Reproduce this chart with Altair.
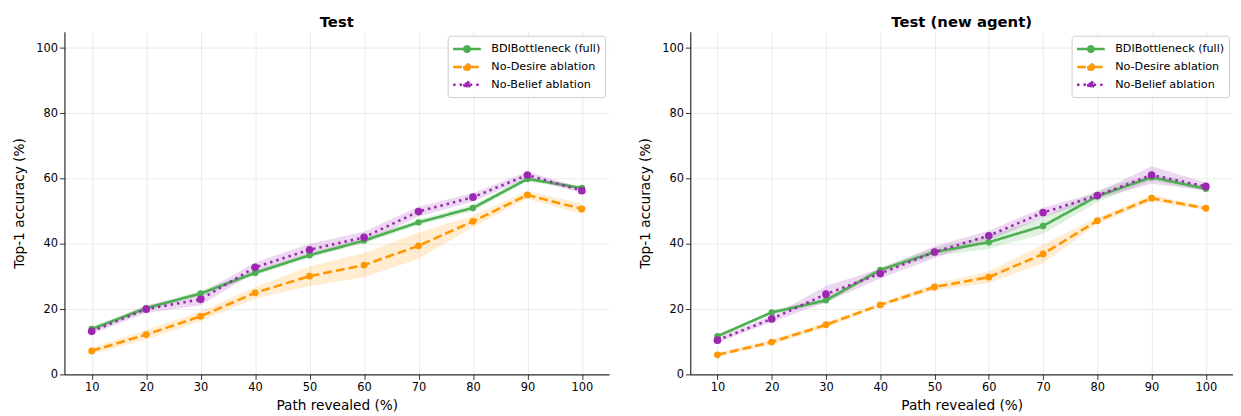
import altair as alt
import pandas as pd

x_vals = [10, 20, 30, 40, 50, 60, 70, 80, 90, 100]
y_ticks = [0, 20, 40, 60, 80, 100]
series_names = ["BDIBottleneck (full)", "No-Desire ablation", "No-Belief ablation"]
series_colors = ["#4caf50", "#ff9800", "#9c27b0"]
series_dash = [[1, 0], [9, 4], [2.5, 4]]
series_size = [42, 48, 60]

# Panel 1: Test
test_full = [13.9, 20.3, 24.8, 31.1, 36.5, 41.0, 46.6, 51.0, 59.9, 57.1]
test_full_err = [0.8, 0.7, 0.8, 0.8, 0.8, 0.8, 0.9, 1.0, 0.7, 0.6]
test_nodesire = [7.2, 12.2, 17.8, 25.0, 30.1, 33.5, 39.4, 46.9, 55.0, 50.7]
test_nodesire_err = [1.0, 1.5, 1.5, 1.8, 3.0, 3.7, 4.0, 1.7, 1.2, 1.6]
test_nobelief = [13.2, 20.0, 23.0, 32.8, 38.2, 42.0, 49.9, 54.3, 61.1, 56.3]
test_nobelief_err = [0.8, 1.2, 1.8, 1.5, 1.8, 1.7, 1.5, 1.3, 1.0, 0.8]

# Panel 2: Test (new agent)
new_full = [11.7, 19.0, 22.7, 32.0, 37.5, 40.5, 45.5, 54.6, 60.4, 56.9]
new_full_err = [0.5, 0.6, 0.8, 0.8, 1.2, 2.0, 2.5, 1.8, 1.0, 0.8]
new_nodesire = [6.0, 9.9, 15.2, 21.3, 26.8, 29.8, 36.9, 47.1, 54.0, 50.9]
new_nodesire_err = [0.6, 0.8, 0.8, 0.6, 1.0, 1.8, 2.8, 1.0, 1.0, 0.6]
new_nobelief = [10.5, 17.0, 24.6, 30.9, 37.5, 42.5, 49.6, 54.8, 61.1, 57.6]
new_nobelief_err = [0.8, 1.0, 2.5, 1.5, 1.8, 1.5, 1.5, 1.0, 2.7, 1.2]


def make_df(means, errs):
    rows = []
    for name, m, e in zip(series_names, means, errs):
        for xv, mv, ev in zip(x_vals, m, e):
            rows.append({"x": xv, "series": name, "mean": mv, "lo": mv - ev, "hi": mv + ev})
    return pd.DataFrame(rows)


df_test = make_df([test_full, test_nodesire, test_nobelief],
                  [test_full_err, test_nodesire_err, test_nobelief_err])
df_new = make_df([new_full, new_nodesire, new_nobelief],
                 [new_full_err, new_nodesire_err, new_nobelief_err])

# legend handle: line with a dot in the middle (path spans beyond the unit box)
legend_path = ("M-1,0L0.4,0M1.1,0L2.5,0M1.1,0A0.35,0.35,0,1,1,0.4,0"
               "A0.35,0.35,0,1,1,1.1,0Z")


def panel(df, title, width):
    cs = alt.Scale(domain=series_names, range=series_colors)
    x_enc = alt.X("x:Q", scale=alt.Scale(domain=[5, 105], nice=False, zero=False),
                  axis=alt.Axis(values=x_vals, title="Path revealed (%)", titlePadding=6))
    y_scale = alt.Scale(domain=[0, 105], nice=False)
    y_axis = alt.Axis(values=y_ticks, title="Top-1 accuracy (%)", titlePadding=9)
    leg = alt.Legend(
        title=None, orient="top-right", offset=4,
        symbolType=legend_path, symbolSize=256, symbolStrokeWidth=2.5,
        labelFontSize=11.3, labelFont="DejaVu Sans", labelColor="#000000",
        fillColor="rgba(255,255,255,0.85)", strokeColor="#cccccc", cornerRadius=3,
        padding=4, rowPadding=-1, labelOffset=21, symbolOpacity=1,
    )
    base = alt.Chart(df)
    bands = []
    for name, col in zip(series_names, series_colors):
        bands.append(
            base.transform_filter(alt.datum.series == name).mark_area(opacity=0.18).encode(
                x=x_enc,
                y=alt.Y("lo:Q", scale=y_scale, axis=y_axis, stack=None),
                y2="hi:Q",
                fill=alt.value(col),
            )
        )
    line = base.mark_line(strokeWidth=2.6).encode(
        x=x_enc,
        y=alt.Y("mean:Q", scale=y_scale, axis=y_axis),
        stroke=alt.Stroke("series:N", scale=cs, legend=leg, sort=series_names),
        strokeDash=alt.StrokeDash("series:N", scale=alt.Scale(domain=series_names, range=series_dash),
                                  legend=leg, sort=series_names),
    )
    pts = []
    for name, sz in zip(series_names, series_size):
        pts.append(
            base.transform_filter(alt.datum.series == name).mark_circle(opacity=1, size=sz).encode(
                x=x_enc,
                y=alt.Y("mean:Q", scale=y_scale, axis=y_axis),
                color=alt.Color("series:N", scale=cs, legend=leg, sort=series_names),
            )
        )
    return alt.layer(*bands, line, *pts).properties(
        width=width, height=346,
        title=alt.TitleParams(title, fontSize=15, fontWeight="bold", font="DejaVu Sans",
                              anchor="middle", offset=2, color="#000000"),
    )


left = panel(df_test, "Test", 550)
right = panel(df_new, "Test (new agent)", 548)

chart = alt.hconcat(left, right, spacing=30).resolve_scale(
    color="independent", stroke="independent", strokeDash="independent"
).resolve_legend(
    color="independent", stroke="independent", strokeDash="independent"
).properties(
    padding={"left": 5, "top": 5, "right": 0, "bottom": 0}
).configure_view(stroke=None).configure_axis(
    labelFont="DejaVu Sans", titleFont="DejaVu Sans",
    labelFontSize=11.5, titleFontSize=13.8, titleFontWeight="normal",
    labelColor="#000000", titleColor="#000000",
    domainColor="#000000", domainWidth=1, tickColor="#000000", tickSize=5,
    tickWidth=0.8, gridColor="#e6e6e6", gridWidth=0.8, labelPadding=2,
)

chart.save("out.html", embed_options={"renderer": "svg", "actions": False})
